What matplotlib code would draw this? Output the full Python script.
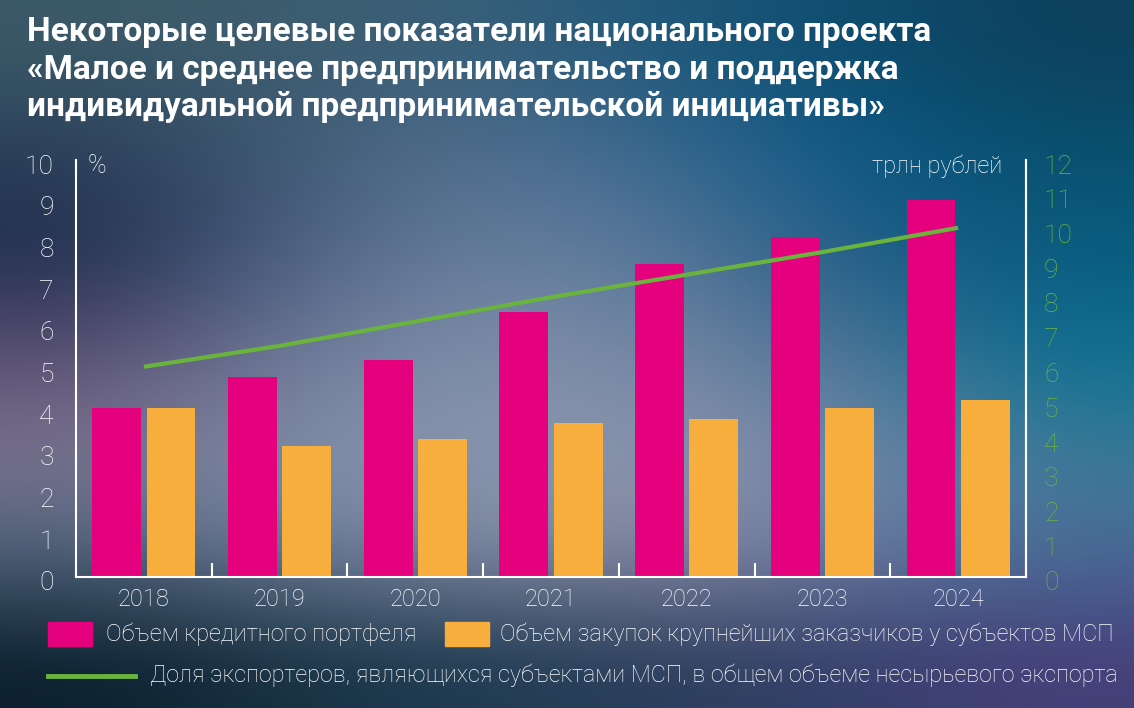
import numpy as np
import matplotlib
matplotlib.use('Agg')
import matplotlib.pyplot as plt
from matplotlib.patches import Rectangle
from matplotlib.lines import Line2D
from matplotlib.colors import to_rgb
from matplotlib.transforms import ScaledTranslation

plt.rcParams['font.family'] = ['Roboto', 'DejaVu Sans']

# данные
years = ['2018', '2019', '2020', '2021', '2022', '2023', '2024']
credit = [4.05, 4.8, 5.2, 6.35, 7.5, 8.15, 9.05]
purchases = [4.05, 3.15, 3.3, 3.7, 3.8, 4.05, 4.25]
export_share = [6.05, 6.65, 7.35, 8.05, 8.7, 9.35, 10.05]

title = ('Некоторые целевые показатели национального проекта\n'
         '«Малое и среднее предпринимательство и поддержка\n'
         'индивидуальной предпринимательской инициативы»')
lbl_credit = 'Объем кредитного портфеля'
lbl_purch = 'Объем закупок крупнейших заказчиков у субъектов МСП'
lbl_export = 'Доля экспортеров, являющихся субъектами МСП, в общем объеме несырьевого экспорта'

MAGENTA = '#e5007d'
ORANGE = '#f8ae3c'
GREEN = '#6ab43e'
W, H = 1134, 708

fig = plt.figure(figsize=(W / 100, H / 100), dpi=100)

# фон - плавный градиент
bg_rows = [
    ['#3b5a68', '#3d5d6e', '#38607a', '#1f587a', '#0c4d70', '#0e405c'],
    ['#2a3e58', '#405a74', '#557090', '#3a6890', '#0a5a88', '#08506e'],
    ['#1e2c4c', '#4a5e80', '#6a80a0', '#5a7898', '#205a85', '#0a5c80'],
    ['#5a4e72', '#6e7898', '#8090aa', '#7888a5', '#4a7095', '#0a7090'],
    ['#7e7490', '#8090a8', '#8a98b0', '#8c94ac', '#7a8aa8', '#3a7a98'],
    ['#4a6078', '#6a7a95', '#7e88a2', '#8a88a2', '#6a7aa0', '#4a6a98'],
    ['#0a1e2c', '#163040', '#1c3a50', '#283c58', '#343e6a', '#463e78'],
]
bg = np.array([[to_rgb(c) for c in row] for row in bg_rows])
bg_ax = fig.add_axes([0, 0, 1, 1], zorder=-10)
bg_ax.imshow(bg, aspect='auto', interpolation='bicubic', extent=[0, 1, 0, 1])
bg_ax.axis('off')

# основная область
ax = fig.add_axes([76 / W, 1 - 577 / H, 950 / W, 417 / H])
ax.patch.set_alpha(0)
x = np.arange(len(years))
bw = 0.36
ax.bar(x - 0.2, credit, bw, color=MAGENTA, zorder=2)
ax.bar(x + 0.2, purchases, bw, color=ORANGE, zorder=2)
ax.set_xlim(-0.5, len(years) - 0.5)
ax.set_ylim(0, 10)
ax.set_yticks(range(0, 11))
ax.tick_params(axis='y', length=0, pad=16, labelsize=19, labelcolor='white')
shift = ScaledTranslation(0, -4 / 100, fig.dpi_scale_trans)
for t in ax.get_yticklabels():
    t.set_fontweight('light')
    t.set_transform(t.get_transform() + shift)

ax.set_xticks(x)
ax.set_xticklabels(years, fontsize=17, color='white', fontweight='light')
ax.set_xticks(x[:-1] + 0.5, minor=True)
ax.tick_params(axis='x', which='major', length=0, pad=8)
ax.tick_params(axis='x', which='minor', direction='in', length=10, width=1.5, color='white')

ax.spines['top'].set_visible(False)
for s in ['left', 'bottom', 'right']:
    ax.spines[s].set_color('white')
    ax.spines[s].set_linewidth(1.5)

ax2 = ax.twinx()
ax2.set_ylim(0, 12)
ax2.set_yticks(range(0, 13))
ax2.plot(x, export_share, color=GREEN, lw=3, solid_capstyle='butt', zorder=3)
ax2.tick_params(axis='y', length=0, pad=13, labelsize=19, labelcolor=GREEN)
for t in ax2.get_yticklabels():
    t.set_fontweight('light')
    t.set_transform(t.get_transform() + shift)
for s in ['top', 'left', 'bottom']:
    ax2.spines[s].set_visible(False)
ax2.spines['right'].set_color('white')
ax2.spines['right'].set_linewidth(1.5)

ax.text(0.012, 0.985, '%', transform=ax.transAxes, ha='left', va='center',
        color='white', fontsize=18, fontweight='light')
ax.text(0.975, 0.985, 'трлн рублей', transform=ax.transAxes, ha='right', va='center',
        color='white', fontsize=17, fontweight='light')

# заголовок
fig.text(27 / W, 1 - 16 / H, title, ha='left', va='top', color='white',
         fontsize=24, fontweight='bold', linespacing=1.22)

# легенда
def px(xp, yp):
    return xp / W, 1 - yp / H

fig.add_artist(Rectangle(px(48, 646), 44 / W, 24 / H, transform=fig.transFigure,
                         color=MAGENTA))
fig.text(*px(106, 634), lbl_credit, ha='left', va='center', color='white',
         fontsize=17, fontweight='light')
fig.add_artist(Rectangle(px(445, 646), 44 / W, 24 / H, transform=fig.transFigure,
                         color=ORANGE))
fig.text(*px(500, 634), lbl_purch, ha='left', va='center', color='white',
         fontsize=16.8, fontweight='light')
fig.add_artist(Line2D([48 / W, 135 / W], [1 - 676 / H] * 2, transform=fig.transFigure,
                      color=GREEN, lw=3.5))
fig.text(*px(150, 675), lbl_export, ha='left', va='center', color='white',
         fontsize=16.8, fontweight='light')

fig.savefig('out.png', dpi=100)
